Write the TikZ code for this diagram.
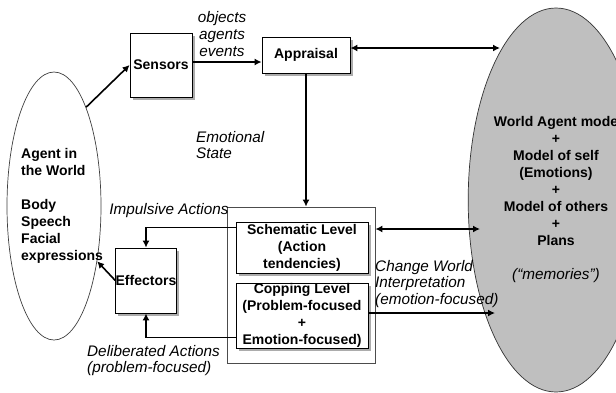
\documentclass[tikz,border=0pt]{standalone}
\usepackage{fontspec}
\setmainfont{Liberation Sans}
\usetikzlibrary{shapes.geometric,shadows,arrows.meta,calc}
\begin{document}
\begin{tikzpicture}[x=1pt,y=-1pt,
  arr/.style={line width=1.6pt,-{Latex[length=7pt,width=7pt]}},
  darr/.style={line width=1.6pt,{Latex[length=7pt,width=7pt]}-{Latex[length=7pt,width=7pt]}},
  txt/.style={font=\bfseries\fontsize{14}{17}\selectfont,inner sep=0pt},
  lbl/.style={font=\itshape\fontsize{15.3}{16.8}\selectfont,inner sep=0pt},
  box/.style={txt,draw=black,line width=0.8pt,fill=white,align=center,
    drop shadow={shadow xshift=2.5pt,shadow yshift=-2.5pt,fill=gray!65,opacity=1}}]
\useasboundingbox (0,0) rectangle (616,392);
\fill[white] (0,0) rectangle (616,392);
% ellipses
\node[ellipse,draw=gray!50!black,line width=0.7pt,fill=white,minimum width=94pt,minimum height=268pt,inner sep=0pt] (agent) at (54,206) {};
\node[txt,align=left,anchor=west] (agenttext) at (21,206) {Agent in\\the World\\[17pt]Body\\Speech\\Facial\\expressions};
\node[ellipse,draw=gray!40!black,line width=0.7pt,fill=gray!50,minimum width=140pt,minimum height=384pt,inner sep=0pt,txt,align=center] (world) at (556,200)
  {World Agent mode\\+\\Model of self\\(Emotions)\\+\\Model of others\\+\\Plans\\[17pt]{\mdseries\itshape\fontsize{15.3}{17}\selectfont(“memories”)}};
% boxes
\node[box,minimum width=62pt,minimum height=64pt] (sensors) at (161,65) {Sensors};
\node[box,minimum width=88pt,minimum height=36pt] (appraisal) at (306,55) {Appraisal};
\node[box,minimum width=60pt,minimum height=65pt] (effectors) at (146,280.5) {Effectors};
\node[draw=gray!60!black,line width=0.8pt,fill=white,minimum width=148pt,minimum height=156pt,inner sep=0pt] (level) at (301,285) {};
\node[box,minimum width=132pt,minimum height=51pt] (schematic) at (302,247.5) {Schematic Level\\(Action\\tendencies)};
\node[box,minimum width=132pt,minimum height=65pt] (copping) at (302,315.5) {Copping Level\\(Problem-focused\\+\\Emotion-focused)};
% labels
\node[lbl,align=center] (objl) at (222,34) {objects\\agents\\events};
\node[lbl,align=left,anchor=west] (emol) at (196,145) {Emotional\\State};
\node[lbl] (impl) at (169,211) {Impulsive Actions};
\node[lbl,align=left,anchor=west] (delib) at (87,360.5) {Deliberated Actions\\(problem-focused)};
\node[lbl,align=left,anchor=west] (chg) at (375,284) {Change World\\Interpretation\\(emotion-focused)};
% connectors
\coordinate (wm1) at (500,48);
\coordinate (wm2) at (480,229);
\coordinate (wm3) at (495,313);
\draw[arr] (agent.72) -- (sensors.west);
\draw[arr] ([yshift=3pt]sensors.east) -- ([yshift=3pt]sensors.east -| appraisal.west);
\draw[darr] (appraisal.east |- wm1) -- (wm1);
\draw[arr] (appraisal.south) -- (appraisal.south |- level.north);
\draw[darr] (level.east |- wm2) -- (wm2);
\draw[arr] (copping.east |- wm3) -- (wm3);
\draw[arr] ($(schematic.north west)+(0,6)$) -| (effectors.north);
\draw[arr] ($(copping.south west)+(0,-11)$) -| (effectors.south);
\draw[arr] (effectors.west) -- (agent.-52);
\end{tikzpicture}
\end{document}
